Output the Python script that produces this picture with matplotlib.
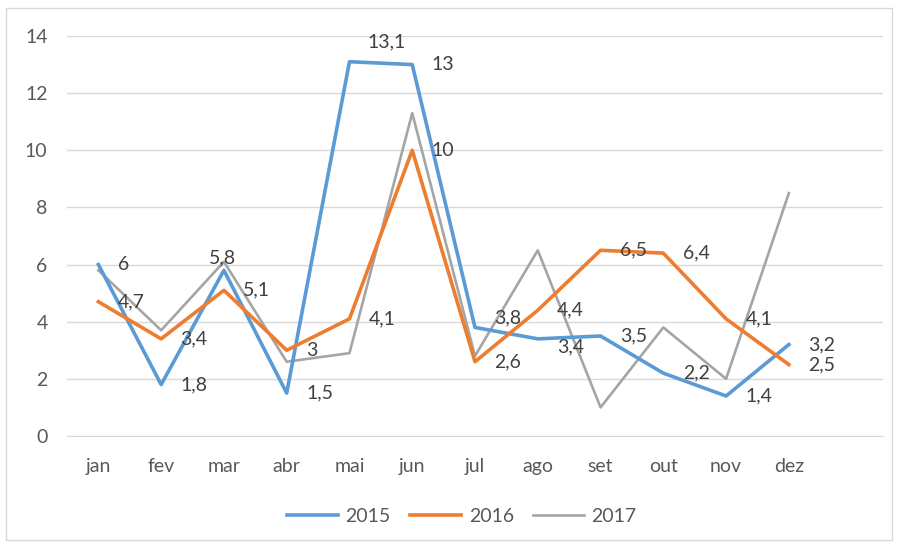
import matplotlib.pyplot as plt
from matplotlib.patches import Rectangle

plt.rcParams['font.family'] = ['Lato', 'DejaVu Sans']

meses = ['jan', 'fev', 'mar', 'abr', 'mai', 'jun', 'jul', 'ago', 'set', 'out', 'nov', 'dez']
v2015 = [6, 1.8, 5.8, 1.5, 13.1, 13, 3.8, 3.4, 3.5, 2.2, 1.4, 3.2]
v2016 = [4.7, 3.4, 5.1, 3, 4.1, 10, 2.6, 4.4, 6.5, 6.4, 4.1, 2.5]
v2017 = [5.8, 3.7, 6.1, 2.6, 2.9, 11.3, 2.8, 6.5, 1.0, 3.8, 2.0, 8.5]

cor_txt = '#595959'
fig = plt.figure(figsize=(8.97, 5.46), dpi=100)
ax = fig.add_axes([67/897, 1 - 436/546, 816/897, 400/546])

x = list(range(len(meses)))
ax.plot(x, v2015, color='#5B9BD5', lw=2.6, label='2015', zorder=3)
ax.plot(x, v2016, color='#ED7D31', lw=2.6, label='2016', zorder=3)
ax.plot(x, v2017, color='#A5A5A5', lw=1.9, label='2017', zorder=2)

# rotulos de dados (2015 e 2016), posicao "direita" com alguns ajustes
ajuste = {('2015', 2): (-1, 9, 'center'), ('2015', 4): (27, 14, 'center'),
          ('2015', 6): (14, 7, 'left'), ('2015', 7): (14, -6, 'left')}
for nome, serie in [('2015', v2015), ('2016', v2016)]:
    for i, v in enumerate(serie):
        dx, dy, ha = ajuste.get((nome, i), (14, 0, 'left'))
        txt = ('%g' % v).replace('.', ',')
        ax.annotate(txt, (i, v), xytext=(dx, dy), textcoords='offset points',
                    ha=ha, va='center', fontsize=14, color='#404040', zorder=4)

ax.set_xlim(-0.5, 12.5)
ax.set_ylim(0, 14)
ax.set_yticks(range(0, 15, 2))
ax.set_xticks(x)
ax.set_xticklabels(meses)
ax.grid(axis='y', color='#D9D9D9', lw=1)
ax.set_axisbelow(True)
for s in ['top', 'right', 'left']:
    ax.spines[s].set_visible(False)
ax.spines['bottom'].set_color('#D9D9D9')
ax.tick_params(axis='both', length=0, labelsize=14, colors=cor_txt)
ax.tick_params(axis='y', pad=14)
ax.tick_params(axis='x', pad=16)

leg = fig.legend(loc='center', bbox_to_anchor=(462/897, 1 - 516/546), ncol=3,
                 frameon=False, fontsize=14, handlelength=2.6, columnspacing=1.0,
                 handletextpad=0.4)
for t in leg.get_texts():
    t.set_color(cor_txt)

fig.patches.append(Rectangle((6/897, 6/546), 886/897, 532/546, transform=fig.transFigure,
                             fill=False, edgecolor='#D9D9D9', lw=1))

plt.savefig('out.png')
